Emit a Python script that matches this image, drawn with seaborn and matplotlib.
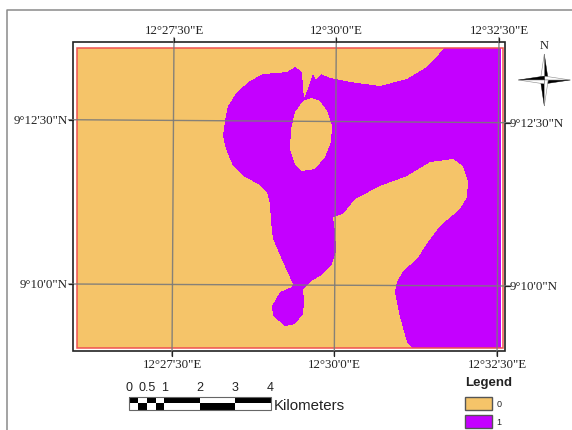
import numpy as np
import pandas as pd
import matplotlib
matplotlib.use("Agg")
import matplotlib.pyplot as plt
from matplotlib.colors import ListedColormap
from matplotlib.path import Path
from matplotlib.patches import Rectangle
import seaborn as sns

n_cols = 425
n_rows = 300

# boundary of class 1, clockwise from where it meets the top edge
class1_col = [368, 425, 425,
              336, 331, 324, 319, 321, 327, 341, 352, 364, 384, 391, 392, 387, 377, 354, 331,
              304, 279, 271, 267, 257, 259, 260, 256, 247, 234, 227, 228, 227, 219, 209, 197,
              196, 204, 216, 217, 207, 197, 195, 194, 191, 184, 169, 157, 150, 147, 149, 152,
              161, 174, 187, 201, 211, 219, 226, 227, 228, 232, 237, 240, 245, 254, 274, 304,
              331, 349, 359]
class1_row = [0, 0, 300,
              300, 294, 269, 244, 234, 223, 211, 194, 178, 161, 149, 133, 118, 111, 114, 128,
              138, 151, 161, 166, 169, 184, 203, 216, 226, 234, 241, 254, 266, 276, 278, 268,
              258, 244, 239, 236, 214, 191, 174, 156, 144, 137, 129, 118, 101, 88, 73, 58,
              44, 33, 26, 25, 24, 19, 24, 41, 50, 41, 26, 32, 26, 30, 34, 38,
              31, 20, 11]

# the closed island of class 0 inside class 1
island_col = [236, 244, 251, 256, 255, 249, 239, 226, 219, 214, 215, 219, 227]
island_row = [50, 53, 63, 78, 94, 109, 121, 123, 116, 101, 81, 64, 53]

class_labels = ["0", "1"]
class_colors = ["#F5C469", "#C400FF"]

lon_labels = ["12°27'30\"E", "12°30'0\"E", "12°32'30\"E"]
lat_labels = ["9°12'30\"N", "9°10'0\"N"]

scale_km = [0, 0.25, 0.5, 0.75, 1, 2, 3, 4]
scale_labels = ["0", "0.5", "1", "2", "3", "4"]
scale_label_km = [0, 0.5, 1, 2, 3, 4]

# layout, in pixels of the 572x431 image
lon_top_x = [174, 336.3, 499]
lon_bot_x = [172, 334.3, 497]
lat_left_y = [120.7, 285]
lat_right_y = [123.7, 287]

sns.set_theme(style="white")
plt.rcParams["font.family"] = ["Liberation Serif"]

fig = plt.figure(figsize=(5.72, 4.31), dpi=100)

# rasterize the class boundaries on to the grid
cc, rr = np.meshgrid(np.arange(n_cols) + 0.5, np.arange(n_rows) + 0.5)
cells = np.column_stack([cc.ravel(), rr.ravel()])
grid = Path(np.column_stack([class1_col, class1_row])).contains_points(cells)
grid &= ~Path(np.column_stack([island_col, island_row])).contains_points(cells)
grid = pd.DataFrame(grid.reshape(n_rows, n_cols).astype(int))

ax = fig.add_axes([76.5 / 572, 1 - 349 / 431, 424.5 / 572, 300 / 431])
sns.heatmap(grid, ax=ax, cmap=ListedColormap(class_colors), vmin=0, vmax=1, cbar=False,
            xticklabels=False, yticklabels=False, rasterized=True)
ax.set_xlabel("")
ax.set_ylabel("")

# everything around the raster goes on an overlay in image pixels
ov = fig.add_axes([0, 0, 1, 1], facecolor="none")
ov.set_xlim(0, 572)
ov.set_ylim(431, 0)
ov.axis("off")

ov.plot([7, 7, 572], [431, 10.5, 10.5], color="#8A8A8A", lw=1.1)
ov.add_patch(Rectangle((76.5, 48.7), 426.2, 300, fill=False, ec="#F0524F", lw=1.1))
ov.add_patch(Rectangle((73.3, 43.3), 431.2, 309, fill=False, ec="#222222", lw=1.2))

for i, lab in enumerate(lon_labels):
    ov.plot([lon_top_x[i], lon_bot_x[i]], [38.5, 357], color="#7A7A7A", lw=1, alpha=0.9)
    ov.plot([lon_top_x[i], lon_top_x[i]], [38.5, 43.3], color="#222222", lw=0.9)
    ov.plot([lon_bot_x[i], lon_bot_x[i]], [352.3, 357], color="#222222", lw=0.9)
    ov.text(lon_top_x[i], 30.5, lab, ha="center", va="center", fontsize=9.3, color="#222222")
    ov.text(lon_bot_x[i], 365.5, lab, ha="center", va="center", fontsize=9.3, color="#222222")

for i, lab in enumerate(lat_labels):
    ov.plot([68.5, 509.5], [lat_left_y[i], lat_right_y[i]], color="#7A7A7A", lw=1, alpha=0.9)
    ov.plot([68.5, 73.3], [lat_left_y[i], lat_left_y[i]], color="#222222", lw=0.9)
    ov.plot([504.5, 509.5], [lat_right_y[i], lat_right_y[i]], color="#222222", lw=0.9)
    ov.text(67.5, lat_left_y[i], lab, ha="right", va="center", fontsize=9.3, color="#222222")
    ov.text(510, lat_right_y[i], lab, ha="left", va="center", fontsize=9.3, color="#222222")

# scale bar, checkered row by row
px_km = 35.4
bar_x0 = 129
for j in range(len(scale_km) - 1):
    x0 = bar_x0 + scale_km[j] * px_km
    w = (scale_km[j + 1] - scale_km[j]) * px_km
    ov.add_patch(Rectangle((x0, 398), w, 6.5, fc="black" if j % 2 == 0 else "white", ec="none"))
    ov.add_patch(Rectangle((x0, 404.5), w, 6.5, fc="white" if j % 2 == 0 else "black", ec="none"))
ov.add_patch(Rectangle((bar_x0, 398), scale_km[-1] * px_km, 13, fill=False, ec="#666666", lw=0.8))
for km, lab in zip(scale_label_km, scale_labels):
    ov.text(bar_x0 + km * px_km, 388, lab, ha="center", va="center", fontsize=9,
            family="Liberation Sans", color="#222222")
ov.text(274, 406.5, "Kilometers", ha="left", va="center", fontsize=10.8,
        family="Liberation Sans", color="#222222")

# legend
ov.text(465.5, 383.5, "Legend", ha="left", va="center", fontsize=9.5, fontweight="bold",
        family="Liberation Sans", color="#222222")
for i, lab in enumerate(class_labels):
    y0 = 398 + i * 18
    ov.add_patch(Rectangle((465, y0), 27, 13, fc=class_colors[i], ec="#555555", lw=1))
    ov.text(496.5, y0 + 6.5, lab, ha="left", va="center", fontsize=6.5,
            family="Liberation Sans", color="#222222")

# north arrow: four arms, each with a dark and a light half
cx, cy = 544.3, 81
for dx, dy in [(0, -26), (26, 0), (0, 26), (-26, 0)]:
    nx, ny = -dy * 0.15, dx * 0.15
    ov.fill([cx, cx + dx, cx + nx], [cy, cy + dy, cy + ny], fc="black", ec="black", lw=0.3)
    ov.fill([cx, cx + dx, cx - nx], [cy, cy + dy, cy - ny], fc="white", ec="#888888", lw=0.4)
ov.text(cx, 46, "N", ha="center", va="center", fontsize=9, color="#222222")

fig.savefig("out.png", dpi=100)
